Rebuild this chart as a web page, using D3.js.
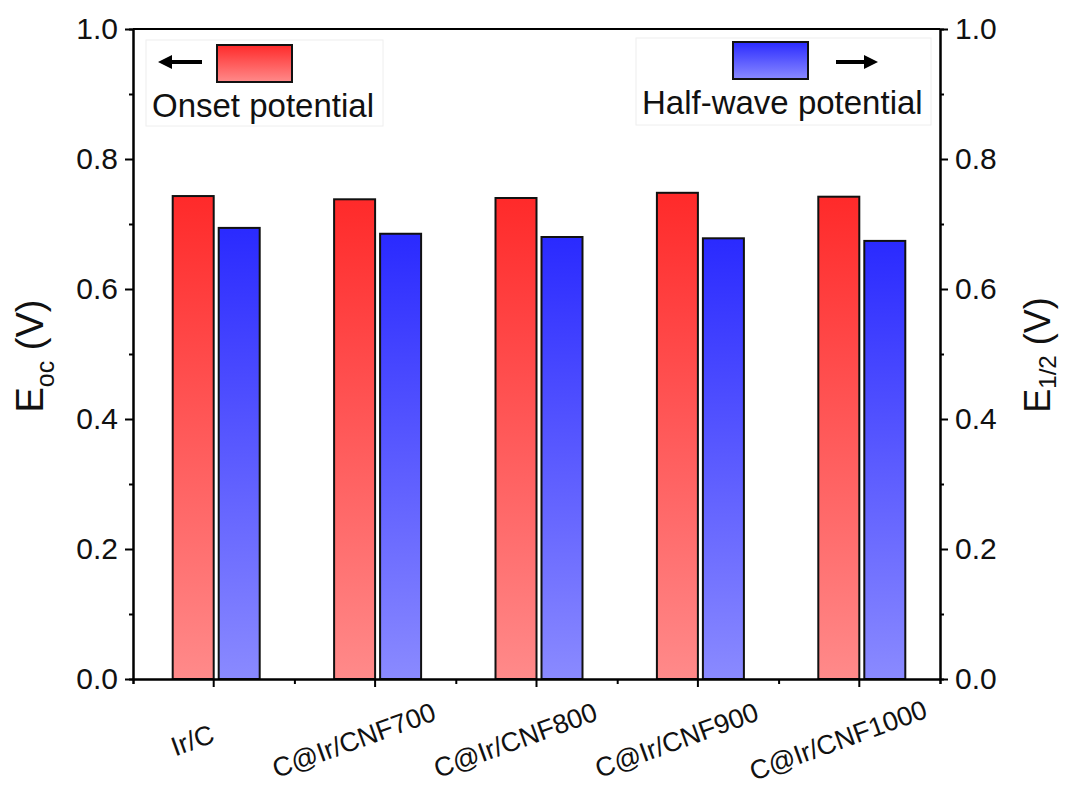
<!DOCTYPE html>
<html>
<head>
<meta charset="utf-8">
<script src="https://cdn.jsdelivr.net/npm/d3@7"></script>
<style>
  body { margin: 0; background: #fff; }
  svg { font-family: Arial, "Liberation Sans", sans-serif; }
</style>
</head>
<body>
<script>
// Data
const samples = ["Ir/C", "C@Ir/CNF700", "C@Ir/CNF800", "C@Ir/CNF900", "C@Ir/CNF1000"];
const onsetPotential = [0.743, 0.738, 0.740, 0.748, 0.742];
const halfWavePotential = [0.694, 0.685, 0.680, 0.678, 0.674];
const majorTicks = [0, 0.2, 0.4, 0.6, 0.8, 1.0];
const minorTicks = [0.1, 0.3, 0.5, 0.7, 0.9];

const width = 1069, height = 793;
const plotLeft = 133, plotRight = 940, plotTop = 29, plotBottom = 679;

const svg = d3.select("body").append("svg")
  .attr("width", width)
  .attr("height", height);

// Gradients
const defs = svg.append("defs");
function gradient(id, topColor, bottomColor) {
  const g = defs.append("linearGradient")
    .attr("id", id)
    .attr("x1", 0).attr("y1", 0).attr("x2", 0).attr("y2", 1);
  g.append("stop").attr("offset", "0%").attr("stop-color", topColor);
  g.append("stop").attr("offset", "100%").attr("stop-color", bottomColor);
}
gradient("redGrad", "#ff2a2a", "#ff8a8a");
gradient("blueGrad", "#2a2aff", "#8a8aff");

// Scales
const xScale = d3.scaleBand().domain(samples).range([plotLeft, plotRight]).padding(0);
const yLeft = d3.scaleLinear().domain([0, 1]).range([plotBottom, plotTop]);
const yRight = d3.scaleLinear().domain([0, 1]).range([plotBottom, plotTop]);
const bw = xScale.bandwidth();
const barW = bw * 0.254;
const gap = bw * 0.031;

// Bars
svg.append("g").selectAll("rect")
  .data(samples)
  .enter()
  .append("rect")
  .attr("x", (d) => xScale(d) + bw / 2 - barW)
  .attr("y", (d, i) => yLeft(onsetPotential[i]))
  .attr("width", barW)
  .attr("height", (d, i) => yLeft(0) - yLeft(onsetPotential[i]))
  .attr("fill", "url(#redGrad)")
  .attr("stroke", "#111")
  .attr("stroke-width", 2);

svg.append("g").selectAll("rect")
  .data(samples)
  .enter()
  .append("rect")
  .attr("x", (d) => xScale(d) + bw / 2 + gap)
  .attr("y", (d, i) => yRight(halfWavePotential[i]))
  .attr("width", barW)
  .attr("height", (d, i) => yRight(0) - yRight(halfWavePotential[i]))
  .attr("fill", "url(#blueGrad)")
  .attr("stroke", "#111")
  .attr("stroke-width", 2);

// Axes
function styleAxis(g) {
  g.selectAll("path.domain").attr("stroke", "#000").attr("stroke-width", 2);
  g.selectAll(".tick line").attr("stroke", "#000").attr("stroke-width", 2);
  g.selectAll(".tick text").attr("fill", "#111").attr("font-size", 30);
}

svg.append("g")
  .attr("transform", `translate(${plotLeft},0)`)
  .call(d3.axisLeft(yLeft).tickValues(minorTicks).tickSize(4).tickFormat(""))
  .call(styleAxis);
svg.append("g")
  .attr("transform", `translate(${plotLeft},0)`)
  .call(d3.axisLeft(yLeft).tickValues(majorTicks).tickSize(8).tickSizeOuter(0)
    .tickPadding(7).tickFormat(d3.format(".1f")))
  .call(styleAxis);

svg.append("g")
  .attr("transform", `translate(${plotRight},0)`)
  .call(d3.axisRight(yRight).tickValues(minorTicks).tickSize(4).tickFormat(""))
  .call(styleAxis);
svg.append("g")
  .attr("transform", `translate(${plotRight},0)`)
  .call(d3.axisRight(yRight).tickValues(majorTicks).tickSize(8).tickSizeOuter(0)
    .tickPadding(7).tickFormat(d3.format(".1f")))
  .call(styleAxis);

// bottom minor ticks at band edges
const edgeScale = d3.scaleLinear().domain([0, samples.length]).range([plotLeft, plotRight]);
svg.append("g")
  .attr("transform", `translate(0,${plotBottom})`)
  .call(d3.axisBottom(edgeScale).tickValues(d3.range(samples.length + 1)).tickSize(5).tickFormat(""))
  .call(styleAxis);

const xAxisG = svg.append("g")
  .attr("transform", `translate(0,${plotBottom})`)
  .call(d3.axisBottom(xScale).tickSize(8).tickSizeOuter(0))
  .call(styleAxis);
xAxisG.selectAll(".tick text")
  .attr("font-size", 27)
  .attr("text-anchor", "middle")
  .attr("dy", null)
  .attr("y", null)
  .attr("transform", "translate(-18,70) rotate(-20)");

// top frame line
svg.append("line")
  .attr("x1", plotLeft).attr("x2", plotRight)
  .attr("y1", plotTop).attr("y2", plotTop)
  .attr("stroke", "#000").attr("stroke-width", 2);

// Axis titles
const yTitleL = svg.append("text")
  .attr("transform", "translate(43,356) rotate(-90)")
  .attr("text-anchor", "middle")
  .attr("font-size", 38)
  .attr("fill", "#111");
yTitleL.append("tspan").text("E");
yTitleL.append("tspan").attr("font-size", 25).attr("dy", 11).text("oc");
yTitleL.append("tspan").attr("dy", -11).text(" (V)");

const yTitleR = svg.append("text")
  .attr("transform", "translate(1050,355) rotate(-90)")
  .attr("text-anchor", "middle")
  .attr("font-size", 36)
  .attr("fill", "#111");
yTitleR.append("tspan").text("E");
yTitleR.append("tspan").attr("font-size", 24).attr("dy", 6).text("1/2");
yTitleR.append("tspan").attr("dy", -6).text(" (V)");

// Legends
function legend(box, swatch, arrow, label, fill) {
  const g = svg.append("g");
  g.append("rect")
    .attr("x", box[0]).attr("y", box[1])
    .attr("width", box[2]).attr("height", box[3])
    .attr("fill", "#fff").attr("stroke", "#eeeeee").attr("stroke-width", 1);
  g.append("rect")
    .attr("x", swatch[0]).attr("y", swatch[1])
    .attr("width", swatch[2]).attr("height", swatch[3])
    .attr("fill", fill).attr("stroke", "#111").attr("stroke-width", 2);
  // arrow: [tipX, tailX, y]
  const dir = arrow[1] > arrow[0] ? 1 : -1;
  g.append("line")
    .attr("x1", arrow[0] + dir * 10).attr("x2", arrow[1])
    .attr("y1", arrow[2]).attr("y2", arrow[2])
    .attr("stroke", "#000").attr("stroke-width", 4);
  g.append("path")
    .attr("d", `M${arrow[0]},${arrow[2]} L${arrow[0] + dir * 14},${arrow[2] - 7} L${arrow[0] + dir * 14},${arrow[2] + 7} Z`)
    .attr("fill", "#000");
  g.append("text")
    .attr("x", label[0]).attr("y", label[1])
    .attr("font-size", 33)
    .attr("fill", "#111")
    .text(label[2]);
}
legend([146, 40, 237, 86], [217, 45, 75, 37], [158, 202, 62], [152, 117, "Onset potential"], "url(#redGrad)");
legend([636, 38, 295, 87], [733, 42, 75, 37], [878, 836, 62], [642, 114, "Half-wave potential"], "url(#blueGrad)");
</script>
</body>
</html>
